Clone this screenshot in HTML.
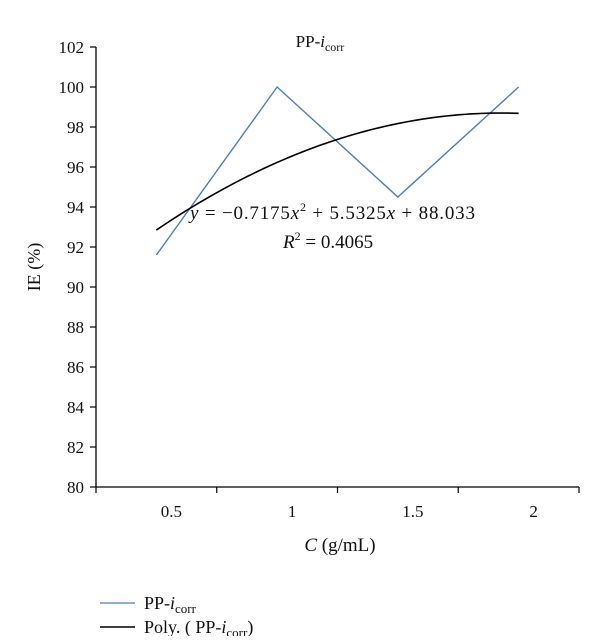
<!DOCTYPE html>
<html><head><meta charset="utf-8"><style>
body{margin:0;background:#fff;}
svg text{font-family:"Liberation Serif",serif;fill:#111;}
</style></head><body>
<svg width="600" height="636">
<script>
const categories=["0.5","1","1.5","2"];
const seriesValues=[91.6,100,94.5,100];
const polyCoeffs=[-0.7175,5.5325,88.033];
const yTicks=[80,82,84,86,88,90,92,94,96,98,100,102];
</script>
<g id="g"></g>
<text x="320" y="47" font-size="17" text-anchor="middle">PP-<tspan font-style="italic">i</tspan><tspan font-size="12" dy="4">corr</tspan></text>
<text x="40" y="267" font-size="18" text-anchor="middle" transform="rotate(-90 40 267)">IE (%)</text>
<text x="340" y="551" font-size="19" text-anchor="middle"><tspan font-style="italic">C</tspan> (g/mL)</text>
<text x="190" y="219" font-size="19" textLength="285"><tspan font-style="italic">y</tspan> = −0.7175<tspan font-style="italic">x</tspan><tspan font-size="12" dy="-8">2</tspan><tspan dy="8"> + 5.5325</tspan><tspan font-style="italic">x</tspan> + 88.033</text>
<text x="283" y="248" font-size="19"><tspan font-style="italic">R</tspan><tspan font-size="12" dy="-8">2</tspan><tspan dy="8"> = 0.4065</tspan></text>
<g>
<line x1="100" y1="603" x2="135" y2="603" stroke="#4a7ebb" stroke-width="1.3"/>
<text x="144" y="609" font-size="18">PP-<tspan font-style="italic">i</tspan><tspan font-size="13" dy="4">corr</tspan></text>
<line x1="100" y1="627" x2="135" y2="627" stroke="#000" stroke-width="1.5"/>
<text x="144" y="633" font-size="18">Poly. ( PP-<tspan font-style="italic">i</tspan><tspan font-size="13" dy="4">corr</tspan><tspan dy="-4">)</tspan></text>
</g>
<script>
(function(){
const NS="http://www.w3.org/2000/svg";
const g=document.getElementById('g');
const x0=96,x1=579,yTop=47,yBot=487,yMin=80,yMax=102;
const band=(x1-x0)/categories.length;
const xs=i=>x0+band*(i+0.5);
const ys=v=>yBot-(v-yMin)/(yMax-yMin)*(yBot-yTop);
function mk(t,a){const e=document.createElementNS(NS,t);for(const k in a)e.setAttribute(k,a[k]);g.appendChild(e);return e;}
let e=mk('line',{x1:x0,y1:yTop,x2:x0,y2:yBot,stroke:'#000','stroke-width':1.3});


e=mk('line',{x1:x0,y1:yBot,x2:x1,y2:yBot,stroke:'#000','stroke-width':1.3});


yTicks.forEach(v=>{
 const y=ys(v);
 let t=mk('line',{x1:x0-6,y1:y,x2:x0,y2:y,stroke:'#000','stroke-width':1.2});
 
 
 t=mk('text',{x:x0-12,y:y+6,'font-size':17,'text-anchor':'end'});
 t.textContent=v;
 
 
});
for(let i=0;i<=categories.length;i++){
 const x=x0+band*i;
 const t=mk('line',{x1:x,y1:yBot,x2:x,y2:yBot+6,stroke:'#000','stroke-width':1.2});
 
 
}
categories.forEach((c,i)=>{
 const t=mk('text',{x:xs(i)+15,y:yBot+30,'font-size':17,'text-anchor':'middle'});
 t.textContent=c;
 
 
});
const pts=seriesValues.map((v,i)=>xs(i)+','+ys(v)).join(' ');
e=mk('polyline',{points:pts,fill:'none',stroke:'#4a7ebb','stroke-width':1.4});


const cp=[];
for(let k=0;k<=60;k++){
 const xv=1+3*k/60;
 const yv=polyCoeffs[0]*xv*xv+polyCoeffs[1]*xv+polyCoeffs[2];
 cp.push((xs(0)+(xv-1)*band)+','+ys(yv));
}
e=mk('polyline',{points:cp.join(' '),fill:'none',stroke:'#000','stroke-width':1.6});


})();
</script>
</svg>
</body></html>
